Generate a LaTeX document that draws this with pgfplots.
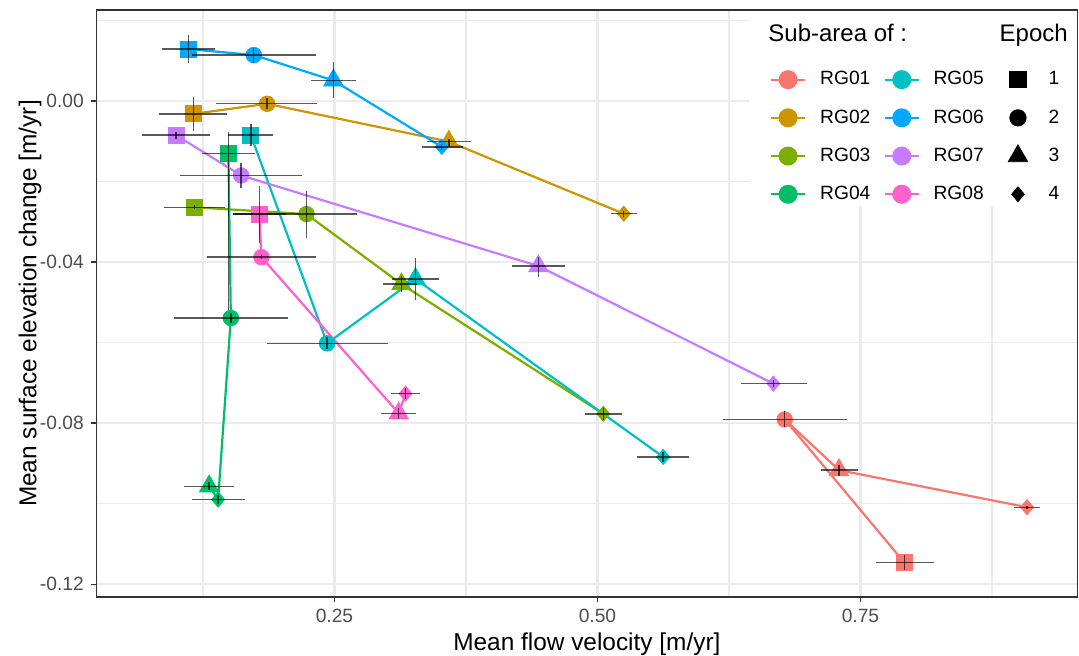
\documentclass[border=0pt]{standalone}
\usepackage{pgfplots}
\pgfplotsset{compat=1.18}
\usepackage{pgfplotstable}
\usepackage{fontspec}
\setmainfont{Liberation Sans}
\definecolor{cA}{HTML}{F8766D}
\definecolor{cB}{HTML}{CD9600}
\definecolor{cC}{HTML}{7CAE00}
\definecolor{cD}{HTML}{00BE67}
\definecolor{cE}{HTML}{00BFC4}
\definecolor{cF}{HTML}{00A9FF}
\definecolor{cG}{HTML}{C77CFF}
\definecolor{cH}{HTML}{FF61CC}
\definecolor{gridc}{HTML}{EBEBEB}
\definecolor{axc}{HTML}{333333}
\definecolor{tickc}{HTML}{4D4D4D}

\pgfdeclareplotmark{ggdiamond}{%
  \pgfpathmoveto{\pgfqpoint{0pt}{\pgfplotmarksize}}%
  \pgfpathlineto{\pgfqpoint{0.85\pgfplotmarksize}{0pt}}%
  \pgfpathlineto{\pgfqpoint{0pt}{-\pgfplotmarksize}}%
  \pgfpathlineto{\pgfqpoint{-0.85\pgfplotmarksize}{0pt}}%
  \pgfpathclose\pgfusepathqfillstroke}

% columns: epoch, x, y, x range (lo,hi), y range (lo,hi)
\pgfplotstableread{
e x y xlo xhi ylo yhi
1 0.7919 -0.1147 0.7644 0.8203 -0.1166 -0.1128
2 0.6780 -0.0791 0.6197 0.7368 -0.0811 -0.0771
3 0.7296 -0.0917 0.7126 0.7478 -0.0931 -0.0903
4 0.9083 -0.1009 0.8957 0.9206 -0.1013 -0.1005
}\rgA
\pgfplotstableread{
e x y xlo xhi ylo yhi
1 0.1160 -0.0032 0.0833 0.1483 -0.0074 0.0009
2 0.1860 -0.0007 0.1378 0.2338 -0.0020 0.0007
3 0.3587 -0.0101 0.3380 0.3800 -0.0111 -0.0094
4 0.5250 -0.0280 0.5124 0.5377 -0.0287 -0.0273
}\rgB
\pgfplotstableread{
e x y xlo xhi ylo yhi
1 0.1169 -0.0264 0.0878 0.1461 -0.0269 -0.0259
2 0.2234 -0.0281 0.1537 0.2712 -0.0340 -0.0224
3 0.3137 -0.0455 0.2963 0.3289 -0.0474 -0.0435
4 0.5055 -0.0777 0.4885 0.5229 -0.0792 -0.0762
}\rgC
\pgfplotstableread{
e x y xlo xhi ylo yhi
1 0.1492 -0.0130 0.1239 0.1746 -0.0520 -0.0076
2 0.1515 -0.0539 0.0970 0.2056 -0.0552 -0.0526
4 0.1394 -0.0990 0.1144 0.1651 -0.1002 -0.0978
3 0.1309 -0.0957 0.1074 0.1546 -0.0967 -0.0947
}\rgD
\pgfplotstableread{
e x y xlo xhi ylo yhi
1 0.1705 -0.0085 0.1492 0.1920 -0.0111 -0.0058
2 0.2430 -0.0602 0.1857 0.3007 -0.0617 -0.0587
3 0.3270 -0.0442 0.3050 0.3495 -0.0494 -0.0391
4 0.5624 -0.0884 0.5374 0.5867 -0.0896 -0.0872
}\rgE
\pgfplotstableread{
e x y xlo xhi ylo yhi
1 0.1112 0.0129 0.0858 0.1365 0.0095 0.0164
2 0.1733 0.0114 0.1147 0.2322 0.0094 0.0131
3 0.2490 0.0051 0.2278 0.2703 0.0007 0.0096
4 0.3520 -0.0114 0.3330 0.3720 -0.0121 -0.0107
}\rgF
\pgfplotstableread{
e x y xlo xhi ylo yhi
1 0.0995 -0.0085 0.0669 0.1321 -0.0094 -0.0076
2 0.1613 -0.0185 0.1027 0.2196 -0.0217 -0.0153
3 0.4439 -0.0410 0.4189 0.4696 -0.0437 -0.0387
4 0.6672 -0.0702 0.6360 0.6988 -0.0711 -0.0693
}\rgG
\pgfplotstableread{
e x y xlo xhi ylo yhi
1 0.1787 -0.0281 0.1537 0.2040 -0.0352 -0.0210
2 0.1806 -0.0388 0.1293 0.2322 -0.0393 -0.0383
3 0.3111 -0.0776 0.2944 0.3279 -0.0789 -0.0763
4 0.3175 -0.0727 0.3035 0.3314 -0.0740 -0.0714
}\rgH

\pgfplotsset{
  pathline/.style={line width=1.1pt, mark=none, forget plot},
  epochmarks/.style={only marks, scatter, point meta=explicit symbolic, forget plot,
    scatter/classes={
      1={mark=square*, mark size=4pt},
      2={mark=*, mark size=3.9pt},
      3={mark=triangle*, mark size=5.6pt},
      4={mark=ggdiamond, mark size=3.8pt}}},
  ebars/.style={draw=none, mark=none, forget plot,
    error bars/.cd, x dir=both, x explicit, y dir=both, y explicit,
    error mark=none,
    error bar style={draw=black, draw opacity=0.65, line width=0.7pt}},
  epochimg/.style={legend image code/.code={%
      \path[draw=none] (0cm,0cm) -- (0.6cm,0cm);
      \draw[##1] plot coordinates {(0.3cm,0cm)};}},
}

\begin{document}
\begin{tikzpicture}
\begin{axis}[
  scale only axis, width=490.6pt, height=293.5pt,
  xmin=0.0236, xmax=0.9563, ymin=-0.1232, ymax=0.0226,
  clip marker paths=true,
  axis line style={axc, line width=0.6pt},
  xtick={0.25,0.5,0.75}, xticklabels={0.25,0.50,0.75},
  ytick={0,-0.04,-0.08,-0.12}, yticklabels={0.00,-0.04,-0.08,-0.12},
  minor xtick={0.125,0.375,0.625,0.875},
  minor ytick={0.02,-0.02,-0.06,-0.10},
  grid=both,
  major grid style={gridc, line width=1.1pt},
  minor grid style={gridc, line width=0.55pt},
  tick pos=left, tick align=outside,
  major tick length=2.75pt, minor tick length=0pt,
  tick style={axc, line width=0.6pt},
  ticklabel style={font=\fontsize{9.6}{11}\selectfont, text=tickc},
  xlabel={Mean flow velocity [m/yr]},
  ylabel={Mean surface elevation change [m/yr]},
  label style={font=\fontsize{12.2}{14}\selectfont, text=black},
  xlabel style={at={(axis description cs:0.5,-0.092)}, anchor=base},
  ylabel style={at={(axis description cs:-0.0676,0.5)}, anchor=center},
  legend columns=3,
  legend cell align=left,
  legend style={at={(rel axis cs:0.6861,0.8963)}, anchor=north west,
    draw=none, fill=none, inner sep=0pt,
    font=\fontsize{9.6}{11}\selectfont,
    nodes={inner sep=0pt},
    /tikz/row sep={19.1pt,between origins},
    /tikz/column 1/.style={column sep=7.0pt},
    /tikz/column 2/.style={column sep=6.6pt},
    /tikz/column 3/.style={column sep=6.8pt},
    /tikz/column 4/.style={column sep=8.6pt},
    /tikz/column 5/.style={column sep=6.8pt},
  },
]
% connecting paths
\addplot[pathline, cA] table[x=x,y=y] {\rgA};
\addplot[pathline, cB] table[x=x,y=y] {\rgB};
\addplot[pathline, cC] table[x=x,y=y] {\rgC};
\addplot[pathline, cD] table[x=x,y=y] {\rgD};
\addplot[pathline, cE] table[x=x,y=y] {\rgE};
\addplot[pathline, cF] table[x=x,y=y] {\rgF};
\addplot[pathline, cG] table[x=x,y=y] {\rgG};
\addplot[pathline, cH] table[x=x,y=y] {\rgH};
% points
\addplot[epochmarks, cA] table[x=x,y=y,meta=e] {\rgA};
\addplot[epochmarks, cB] table[x=x,y=y,meta=e] {\rgB};
\addplot[epochmarks, cC] table[x=x,y=y,meta=e] {\rgC};
\addplot[epochmarks, cD] table[x=x,y=y,meta=e] {\rgD};
\addplot[epochmarks, cE] table[x=x,y=y,meta=e] {\rgE};
\addplot[epochmarks, cF] table[x=x,y=y,meta=e] {\rgF};
\addplot[epochmarks, cG] table[x=x,y=y,meta=e] {\rgG};
\addplot[epochmarks, cH] table[x=x,y=y,meta=e] {\rgH};
% error bars
\addplot[ebars] table[x=x, y=y, x error minus expr=\thisrow{x}-\thisrow{xlo}, x error plus expr=\thisrow{xhi}-\thisrow{x}, y error minus expr=\thisrow{y}-\thisrow{ylo}, y error plus expr=\thisrow{yhi}-\thisrow{y}] {\rgA};
\addplot[ebars] table[x=x, y=y, x error minus expr=\thisrow{x}-\thisrow{xlo}, x error plus expr=\thisrow{xhi}-\thisrow{x}, y error minus expr=\thisrow{y}-\thisrow{ylo}, y error plus expr=\thisrow{yhi}-\thisrow{y}] {\rgB};
\addplot[ebars] table[x=x, y=y, x error minus expr=\thisrow{x}-\thisrow{xlo}, x error plus expr=\thisrow{xhi}-\thisrow{x}, y error minus expr=\thisrow{y}-\thisrow{ylo}, y error plus expr=\thisrow{yhi}-\thisrow{y}] {\rgC};
\addplot[ebars] table[x=x, y=y, x error minus expr=\thisrow{x}-\thisrow{xlo}, x error plus expr=\thisrow{xhi}-\thisrow{x}, y error minus expr=\thisrow{y}-\thisrow{ylo}, y error plus expr=\thisrow{yhi}-\thisrow{y}] {\rgD};
\addplot[ebars] table[x=x, y=y, x error minus expr=\thisrow{x}-\thisrow{xlo}, x error plus expr=\thisrow{xhi}-\thisrow{x}, y error minus expr=\thisrow{y}-\thisrow{ylo}, y error plus expr=\thisrow{yhi}-\thisrow{y}] {\rgE};
\addplot[ebars] table[x=x, y=y, x error minus expr=\thisrow{x}-\thisrow{xlo}, x error plus expr=\thisrow{xhi}-\thisrow{x}, y error minus expr=\thisrow{y}-\thisrow{ylo}, y error plus expr=\thisrow{yhi}-\thisrow{y}] {\rgF};
\addplot[ebars] table[x=x, y=y, x error minus expr=\thisrow{x}-\thisrow{xlo}, x error plus expr=\thisrow{xhi}-\thisrow{x}, y error minus expr=\thisrow{y}-\thisrow{ylo}, y error plus expr=\thisrow{yhi}-\thisrow{y}] {\rgG};
\addplot[ebars] table[x=x, y=y, x error minus expr=\thisrow{x}-\thisrow{xlo}, x error plus expr=\thisrow{xhi}-\thisrow{x}, y error minus expr=\thisrow{y}-\thisrow{ylo}, y error plus expr=\thisrow{yhi}-\thisrow{y}] {\rgH};
% legend background and titles
\fill[white] (rel axis cs:0.6652,0.666) rectangle (rel axis cs:0.9992,0.9985);
\node[anchor=base west, inner sep=0pt, font=\fontsize{12}{14}\selectfont] at (rel axis cs:0.6846,0.946) {Sub-area of :};
\node[anchor=base west, inner sep=0pt, font=\fontsize{12}{14}\selectfont] at (rel axis cs:0.9203,0.946) {Epoch};
% legend entries (row-wise: RG01-04 | RG05-08 | epochs)
\addlegendimage{cA, line width=1.1pt, mark=*, mark size=4.2pt}
\addlegendentry{RG01}
\addlegendimage{cE, line width=1.1pt, mark=*, mark size=4.2pt}
\addlegendentry{RG05}
\addlegendimage{epochimg, black, mark=square*, mark size=4.1pt}
\addlegendentry{1}
\addlegendimage{cB, line width=1.1pt, mark=*, mark size=4.2pt}
\addlegendentry{RG02}
\addlegendimage{cF, line width=1.1pt, mark=*, mark size=4.2pt}
\addlegendentry{RG06}
\addlegendimage{epochimg, black, mark=*, mark size=4.1pt}
\addlegendentry{2}
\addlegendimage{cC, line width=1.1pt, mark=*, mark size=4.2pt}
\addlegendentry{RG03}
\addlegendimage{cG, line width=1.1pt, mark=*, mark size=4.2pt}
\addlegendentry{RG07}
\addlegendimage{epochimg, black, mark=triangle*, mark size=5.6pt}
\addlegendentry{3}
\addlegendimage{cD, line width=1.1pt, mark=*, mark size=4.2pt}
\addlegendentry{RG04}
\addlegendimage{cH, line width=1.1pt, mark=*, mark size=4.2pt}
\addlegendentry{RG08}
\addlegendimage{epochimg, black, mark=ggdiamond, mark size=3.7pt}
\addlegendentry{4}
\end{axis}
\pgfresetboundingbox
\path ([xshift=-48.15pt, yshift=-29.5pt]current axis.south west) rectangle ([xshift=0.75pt, yshift=5pt]current axis.north east);
\end{tikzpicture}
\end{document}
